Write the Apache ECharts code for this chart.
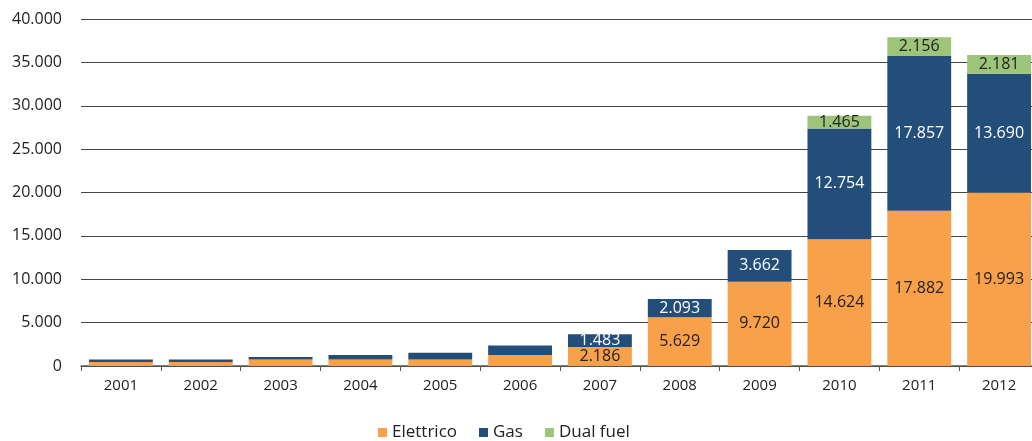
<!DOCTYPE html>
<html>
<head>
<meta charset="utf-8">
<script src="https://cdn.jsdelivr.net/npm/echarts@6/dist/echarts.min.js"></script>
<style>
	html, body { margin: 0; padding: 0; background: #fff; }
	#chart { width: 1032px; height: 441px; }
</style>
</head>
<body>
<div id="chart"></div>
<script>
const years = ['2001', '2002', '2003', '2004', '2005', '2006', '2007', '2008', '2009', '2010', '2011', '2012']
const elettrico = [450, 450, 740, 740, 740, 1280, 2186, 5629, 9720, 14624, 17882, 19993]
const gas = [290, 290, 290, 540, 780, 1070, 1483, 2093, 3662, 12754, 17857, 13690]
const dualFuel = [0, 0, 0, 0, 0, 0, 0, 0, 0, 1465, 2156, 2181]
const yTicks = [0, 5000, 10000, 15000, 20000, 25000, 30000, 35000, 40000]

const fontFamily = '"Open Sans", "Noto Sans", sans-serif'

// punto come separatore delle migliaia
function fmt(v) {
	return String(v).replace(/\B(?=(\d{3})+(?!\d))/g, '.')
}

function labelFor(color) {
	return {
		show: true,
		position: 'inside',
		color: color,
		fontSize: 16,
		fontFamily: fontFamily,
		formatter: function (p) {
			// nessuna etichetta per gli anni piccoli
			if (p.dataIndex < 6 || !p.value) return ''
			return fmt(p.value)
		}
	}
}

const myChart = echarts.init(document.getElementById('chart'))

myChart.setOption({
	animation: false,
	textStyle: { fontFamily: fontFamily },
	grid: {
		left: 81,
		top: 19,
		width: 958,
		bottom: 75,
		outerBoundsMode: 'none'
	},
	legend: {
		top: 419,
		left: 373,
		itemWidth: 9,
		itemHeight: 9,
		itemGap: 22,
		icon: 'rect',
		textStyle: { fontSize: 17, color: '#222', fontFamily: fontFamily },
		data: ['Elettrico', 'Gas', 'Dual fuel']
	},
	xAxis: {
		type: 'category',
		data: years,
		axisLine: { lineStyle: { color: '#555', width: 1.5 } },
		axisTick: { show: true, length: 5, lineStyle: { color: '#555' } },
		axisLabel: { fontSize: 15, color: '#222', margin: 12 }
	},
	yAxis: {
		type: 'value',
		min: yTicks[0],
		max: yTicks[yTicks.length - 1],
		interval: 5000,
		axisLine: { show: false },
		axisTick: { show: false },
		splitLine: { lineStyle: { color: '#444', width: 1 } },
		axisLabel: {
			fontSize: 16,
			color: '#222',
			margin: 19,
			formatter: function (v) { return fmt(v) }
		}
	},
	series: [
		{
			name: 'Elettrico',
			type: 'bar',
			stack: 'tot',
			barCategoryGap: '20%',
			itemStyle: { color: '#F8A14A' },
			label: labelFor('#222'),
			data: elettrico
		},
		{
			name: 'Gas',
			type: 'bar',
			stack: 'tot',
			itemStyle: { color: '#244E7A' },
			label: labelFor('#fff'),
			data: gas
		},
		{
			name: 'Dual fuel',
			type: 'bar',
			stack: 'tot',
			itemStyle: { color: '#9DC57A' },
			label: labelFor('#222'),
			data: dualFuel
		}
	]
})
</script>
</body>
</html>
